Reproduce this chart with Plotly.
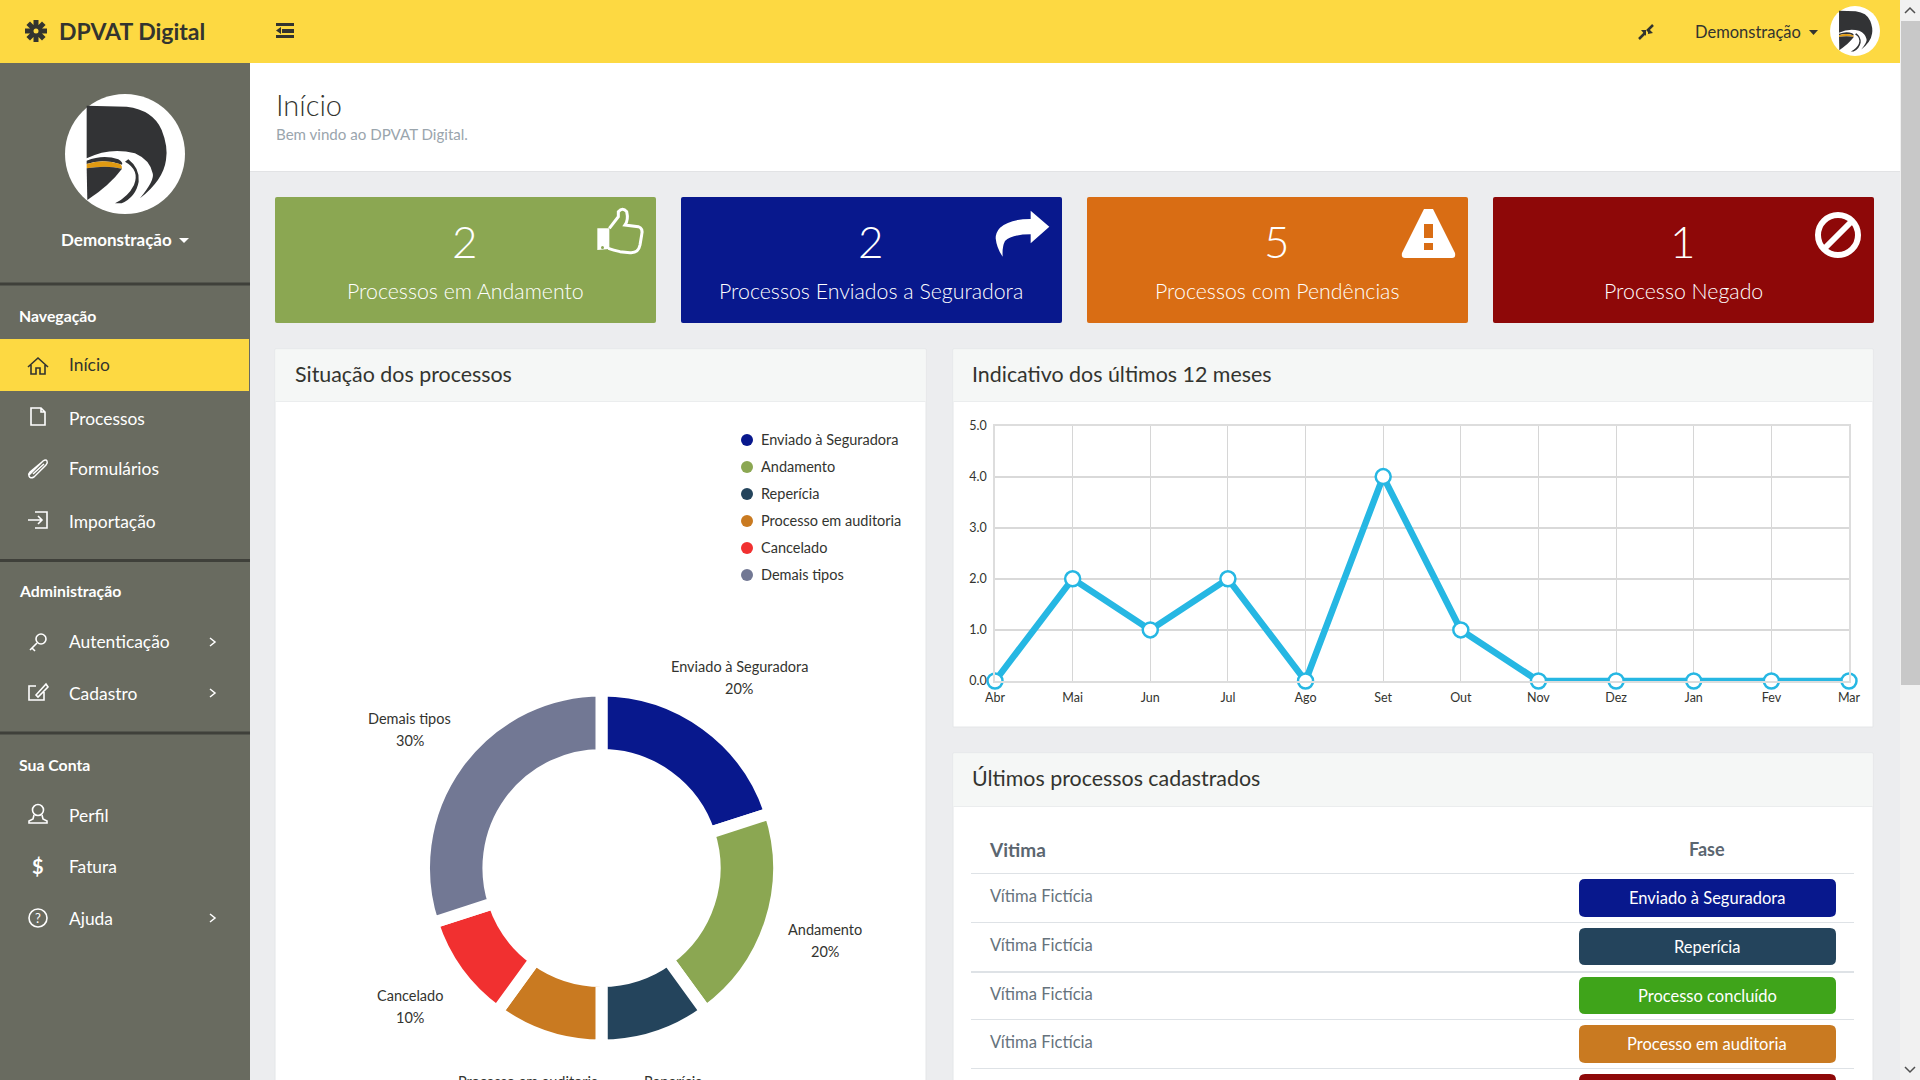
import math
import re
import plotly.graph_objects as go

#chart data
months = ["Abr", "Mai", "Jun", "Jul", "Ago", "Set", "Out", "Nov", "Dez", "Jan", "Fev", "Mar"]
month_counts = [0, 2, 1, 2, 0, 4, 1, 0, 0, 0, 0, 0]
y_ticks = [0, 1, 2, 3, 4, 5]

status_labels = ["Enviado à Seguradora", "Andamento", "Reperícia", "Processo em auditoria", "Cancelado", "Demais tipos"]
status_values = [20, 20, 10, 10, 10, 30]
status_colors = ["#08188D", "#8BA752", "#24445C", "#C97A21", "#F13030", "#727894"]

card_numbers = ["2", "2", "5", "1"]
card_titles = ["Processos em Andamento", "Processos Enviados a Seguradora", "Processos com Pendências", "Processo Negado"]
card_colors = ["#8BA752", "#08188D", "#D96D14", "#8E0808"]

table_names = ["Vítima Fictícia", "Vítima Fictícia", "Vítima Fictícia", "Vítima Fictícia"]
table_phases = ["Enviado à Seguradora", "Reperícia", "Processo concluído", "Processo em auditoria", ""]
phase_colors = ["#08188D", "#24445C", "#3FA41A", "#C97A21", "#8E0808"]

nav_sections = ["Navegação", "Administração", "Sua Conta"]
nav_items = ["Início", "Processos", "Formulários", "Importação", "Autenticação", "Cadastro", "Perfil", "Fatura", "Ajuda"]

#page constants
W = 1920
H = 1080
FONT = "Lato"
YELLOW = "#FDD942"
SIDE = "#696B60"
DARK = "#33342F"

shapes = []
notes = []


#pixel helpers, everything is placed on paper coords
def fx(x):
    return x / W


def fy(y):
    return 1 - y / H


def path_of(d, ox=0, oy=0, s=1):
    out = []
    i = 0
    for tok in re.findall(r"[A-Za-z]|-?\d+\.?\d*", d):
        if tok.isalpha():
            out.append(tok)
        else:
            if i % 2 == 0:
                out.append(f"{fx(ox + float(tok) * s):.6f}")
            else:
                out.append(f"{fy(oy + float(tok) * s):.6f}")
            i += 1
    return " ".join(out)


def rect(x0, y0, x1, y1, color, line=None):
    shapes.append(dict(type="rect", xref="paper", yref="paper", x0=fx(x0), x1=fx(x1), y0=fy(y0), y1=fy(y1),
                       fillcolor=color, line=dict(color=line or color, width=1 if line else 0), layer="below"))


def rrect(x0, y0, x1, y1, r, color):
    d = (f"M {x0 + r} {y0} L {x1 - r} {y0} Q {x1} {y0} {x1} {y0 + r} L {x1} {y1 - r} Q {x1} {y1} {x1 - r} {y1} "
         f"L {x0 + r} {y1} Q {x0} {y1} {x0} {y1 - r} L {x0} {y0 + r} Q {x0} {y0} {x0 + r} {y0} Z")
    shapes.append(dict(type="path", xref="paper", yref="paper", path=path_of(d), fillcolor=color,
                       line=dict(width=0), layer="below"))


def circle(cx, cy, r, color, line=None, lw=0):
    shapes.append(dict(type="circle", xref="paper", yref="paper", x0=fx(cx - r), x1=fx(cx + r), y0=fy(cy - r), y1=fy(cy + r),
                       fillcolor=color, line=dict(color=line or color, width=lw), layer="below"))


def fill(d, color, ox=0, oy=0, s=1):
    shapes.append(dict(type="path", xref="paper", yref="paper", path=path_of(d, ox, oy, s), fillcolor=color,
                       line=dict(width=0), layer="below"))


def stroke(d, color, lw=1.5, ox=0, oy=0, s=1, dash="solid"):
    shapes.append(dict(type="path", xref="paper", yref="paper", path=path_of(d, ox, oy, s),
                       line=dict(color=color, width=lw, dash=dash), layer="below"))


def text(t, x, y, size, color, anchor="left", weight=400, family=FONT):
    #lato sits a bit low and right compared to the original font
    notes.append(dict(text=t, x=fx(x - 1), y=fy(y - 1), xref="paper", yref="paper", xanchor=anchor, yanchor="middle",
                      showarrow=False, font=dict(family=family, size=size, color=color, weight=weight)))


#logo drawn on a 390 unit box, circle centre at 195,192
def logo(cx, cy, r):
    s = r / 180
    ox = cx - 195 * s
    oy = cy - 192 * s
    ink = "#323335"
    circle(cx, cy, r, "#FFFFFF")
    fill("M 80 47 L 200 50 Q 280 60 305 120 Q 325 170 318 210 Q 310 270 240 325 Q 285 270 278 250 Q 270 210 225 190 Q 150 170 80 205 Z", ink, ox, oy, s)
    fill("M 80 212 Q 130 192 175 208 Q 190 218 186 224 Q 130 205 80 222 Z", ink, ox, oy, s)
    fill("M 80 222 Q 130 205 180 222 Q 188 228 186 236 Q 140 225 80 235 Z", "#E09A12", ox, oy, s)
    fill("M 80 235 Q 140 225 186 236 Q 150 285 82 330 Z", ink, ox, oy, s)
    fill("M 195 215 Q 240 240 222 285 Q 205 320 165 340 L 185 340 Q 228 320 236 275 Q 240 235 205 208 Z", ink, ox, oy, s)


#page background, top bar, sidebar
rect(0, 0, W, H, "#ECEDEF")
rect(250, 63, 1900, 171, "#FFFFFF")
rect(250, 171, 1900, 172, "#E2E3E5")
rect(0, 63, 250, H, SIDE)
rect(0, 0, 1900, 63, YELLOW)

#scrollbar
rect(1900, 0, W, H, "#F1F1F1")
rect(1901, 21, W, 685, "#C8C8C8")
stroke("M 1905 13 L 1910 8 L 1915 13", "#505050", 1.5)
stroke("M 1905 1067 L 1910 1072 L 1915 1067", "#505050", 1.5)

#top bar content
for a in range(4):
    ang = a * math.pi / 4
    dx = 11 * math.cos(ang)
    dy = 11 * math.sin(ang)
    stroke(f"M {36 - dx:.2f} {31 - dy:.2f} L {36 + dx:.2f} {31 + dy:.2f}", "#33342F", 5)
circle(36, 31, 6.5, "#33342F")
circle(36, 31, 2.5, YELLOW)
text("DPVAT Digital", 58, 32, 23, "#33342F", weight=700)
fill("M 276 23 L 294 23 L 294 26 L 276 26 Z M 282 29 L 294 29 L 294 33 L 282 33 Z M 276 35 L 294 35 L 294 38 L 276 38 Z M 281 27 L 281 34 L 276 30.5 Z", "#33342F")
stroke("M 1639 39 L 1645 33 M 1647 31 L 1653 25", "#33342F", 2.5)
fill("M 1641 30 L 1646 30 L 1646 36 Z M 1648 34 L 1648 28 L 1653 33 Z", "#33342F")
text("Demonstração", 1694, 33, 16.5, "#33342F")
fill("M 1809 30 L 1818 30 L 1813.5 35 Z", "#33342F")
logo(1855, 31, 25)

#sidebar content
logo(125, 154, 60)
text("Demonstração", 60, 240, 17, "#FFFFFF", weight=700)
fill("M 179 238 L 189 238 L 184 243 Z", "#FFFFFF")
for y in [284, 560.5, 733]:
    rect(0, y - 1.5, 250, y + 1.5, "#3F403A")
rect(0, 339, 249, 391, YELLOW)
for label, y in zip(nav_sections, [316, 591, 765]):
    text(label, 18, y, 15.8, "#FFFFFF", weight=700)
nav_y = [365, 419, 469, 522, 642, 694, 816, 867, 919]
for i, (label, y) in enumerate(zip(nav_items, nav_y)):
    text(label, 68, y, 17.4, DARK if i == 0 else "#FFFFFF")
for y in [642, 693, 918]:
    stroke(f"M 210 {y - 4} L 215 {y} L 210 {y + 4}", "#FFFFFF", 1.5)

#sidebar icons
stroke("M -10 1 L 0 -8 L 10 1 M -7 -1 L -7 8 L -2 8 L -2 2 L 2 2 L 2 8 L 7 8 L 7 -1", DARK, 1.6, 38, 366)
stroke("M -7 -9 L 3 -9 L 7 -5 L 7 8 L -7 8 Z M 3 -9 L 3 -5 L 7 -5", "#FFFFFF", 1.6, 38, 417)
stroke("M -9 7 L 5 -7 Q 8 -9 9 -7 Q 10 -5 8 -3 L -4 9 Q -8 11 -9 8 Q -10 6 -8 4 L 4 -6 M -5 6 L 6 -4", "#FFFFFF", 1.5, 38, 468)
stroke("M -10 0 L 4 0 M 0 -4 L 4 0 L 0 4 M -3 -8 L 9 -8 L 9 8 L -3 8", "#FFFFFF", 1.6, 38, 520)
circle(41, 639, 5, "rgba(0,0,0,0)", "#FFFFFF", 1.6)
stroke("M 37 643 L 30 650 M 32 648 L 35 651", "#FFFFFF", 1.6)
stroke("M 36 686 L 29 686 L 29 700 L 44 700 L 44 692 M 36 695 L 46 684 L 48 687 L 38 697 Z", "#FFFFFF", 1.6)
circle(38, 810, 5.5, "rgba(0,0,0,0)", "#FFFFFF", 1.6)
stroke("M 34 815 L 33 819 L 29 821 L 29 823 L 47 823 L 47 821 L 43 819 L 42 815", "#FFFFFF", 1.6)
text("$", 39, 867, 20, "#FFFFFF", anchor="center", weight=700)
circle(38, 918, 9, "rgba(0,0,0,0)", "#FFFFFF", 1.6)
text("?", 39, 919, 13, "#FFFFFF", anchor="center")

#page header
text("Início", 275, 105, 29, "#33342F", weight=300)
text("Bem vindo ao DPVAT Digital.", 275, 135, 15.1, "#9AA5AD")

#stat cards
card_x = [275, 681, 1087, 1493]
for x0, num, title, color in zip(card_x, card_numbers, card_titles, card_colors):
    rrect(x0, 197, x0 + 381, 323, 2, color)
    text(num, x0 + 191, 242, 44, "#FFFFFF", anchor="center", weight=300)
    text(title, x0 + 191, 292, 21.3, "#FFFFFF", anchor="center", weight=300)

#card icons
stroke("M 58 85 L 85 50 L 85 35 Q 98 20 110 35 Q 116 60 105 75 L 145 80 Q 160 85 155 105 L 150 135 Q 145 160 120 158 L 90 155 Q 70 150 55 145", "#FFFFFF", 3, 590, 200, 1 / 3)
fill("M 22 85 L 58 85 L 58 147 L 22 150 Z", "#FFFFFF", 590, 200, 1 / 3)
circle(602.5, 247.5, 1.5, "#8BA752")
fill("M 178 65 L 122 17 L 122 42 Q 60 42 30 68 Q 17 82 17 100 Q 20 130 38 155 Q 36 125 45 108 Q 65 88 122 88 L 122 115 Z", "#FFFFFF", 990, 205, 1 / 3)
fill("M 1428 209 L 1433 209 L 1455 253 Q 1456 258 1452 258 L 1405 258 Q 1401 258 1402 253 L 1424 209 Z", "#FFFFFF")
fill("M 1424 224 L 1433 224 L 1433 238 L 1424 238 Z M 1424 243 L 1433 243 L 1433 250 L 1424 250 Z", "#D96D14")
circle(1838, 235, 20, "rgba(0,0,0,0)", "#FFFFFF", 6)
stroke("M 1824 249 L 1852 221", "#FFFFFF", 6)

#panels
panel_boxes = [(275, 349, 926, 1100, 401), (953, 349, 1873, 727, 401), (953, 753, 1873, 1100, 806)]
panel_titles = ["Situação dos processos", "Indicativo dos últimos 12 meses", "Últimos processos cadastrados"]
title_x = [294, 971, 971]
title_y = [375, 375, 779]
for (x0, y0, x1, y1, yh), title, tx, ty in zip(panel_boxes, panel_titles, title_x, title_y):
    rect(x0, y0, x1, y1, "#FFFFFF", "#E4E6E8")
    rect(x0 + 0.5, y0 + 0.5, x1 - 0.5, yh, "#F5F7F6")
    rect(x0 + 0.5, yh, x1 - 0.5, yh + 1, "#EBEDEE")
    text(title, tx, ty, 21.4, "#33342F")

#legend of the donut
for i, (label, color) in enumerate(zip(status_labels, status_colors)):
    y = 440 + i * 27
    circle(747, y, 6, color)
    text(label, 760, y + 0.5, 14.5, "#33342F")

#donut labels follow the slice mid angle
cx, cy = 601.5, 868
acc = 0
total = sum(status_values)
for label, val in zip(status_labels, status_values):
    ang = 2 * math.pi * (acc + val / 2) / total
    acc += val
    lx = cx + 236 * math.sin(ang)
    ly = cy - 236 * math.cos(ang)
    text(label, lx, ly - 10, 14.5, "#33342F", anchor="center")
    if ly + 11 < H:
        text(f"{round(100 * val / total)}%", lx, ly + 12, 14.5, "#33342F", anchor="center")

#table
text("Vitima", 988, 850, 19, "#5B6670", weight=700)
text("Fase", 1708, 850, 18, "#5B6670", anchor="center", weight=700)
for y, lw in zip([873, 922, 971, 1019, 1068], [1, 1, 2, 1, 1]):
    rect(971, y, 1854, y + lw, "#DEE2E6")
for name, y in zip(table_names, [897, 946, 995, 1043]):
    text(name, 989, y, 16.6, "#66737D")
for phase, color, y0, y1 in zip(table_phases, phase_colors, [879, 928, 977, 1025, 1074], [917, 965, 1014, 1063, 1112]):
    rrect(1579, y0, 1836, y1, 6, color)
    if phase:
        text(phase, 1708, (y0 + y1) / 2 + 1, 16.5, "#FFFFFF", anchor="center")

#line chart + donut
line_trace = go.Scatter(x=months, y=month_counts, mode="lines+markers", xaxis="x", yaxis="y", cliponaxis=False,
                        line=dict(color="#26B7E3", width=6.5),
                        marker=dict(size=15, color="#FFFFFF", line=dict(color="#26B7E3", width=2.5)),
                        showlegend=False, hoverinfo="x+y")

donut = go.Pie(labels=status_labels, values=status_values, hole=0.637, sort=False, direction="clockwise", rotation=0,
               marker=dict(colors=status_colors, line=dict(color="#FFFFFF", width=12)),
               textinfo="none", showlegend=False,
               domain=dict(x=[fx(cx - 177.5), fx(cx + 177.5)], y=[fy(cy + 177.5), fy(cy - 177.5)]))

fig = go.Figure(data=[line_trace, donut])

fig.update_layout(
    width=W, height=H, margin=dict(l=0, r=0, t=0, b=0, pad=0, autoexpand=False),
    paper_bgcolor="#ECEDEF", plot_bgcolor="rgba(0,0,0,0)",
    font=dict(family=FONT, color="#33342F"),
    shapes=shapes, annotations=notes,
    xaxis=dict(domain=[fx(995), fx(1849)], type="category", categoryorder="array", categoryarray=months,
               range=[0, 11], showgrid=True, gridcolor="#D6D6D6", gridwidth=1, zeroline=False,
               showline=True, mirror=True, linecolor="#DDDDDD", linewidth=1.5,
               tickfont=dict(size=12.5, color="#33342F"), ticks="", ticklabelstandoff=4, fixedrange=True),
    yaxis=dict(domain=[fy(681), fy(425.5)], range=[0, 5], tickvals=y_ticks, tickformat=".1f",
               showgrid=True, gridcolor="#D9D9D9", gridwidth=1.5, zeroline=False,
               showline=True, mirror=True, linecolor="#DDDDDD", linewidth=1.5,
               tickfont=dict(size=12.5, color="#33342F"), ticks="", ticklabelstandoff=4, fixedrange=True),
)

fig.write_html("out.html", config=dict(displayModeBar=False),
               post_script="document.body.style.margin='0';document.body.style.overflow='hidden';")
